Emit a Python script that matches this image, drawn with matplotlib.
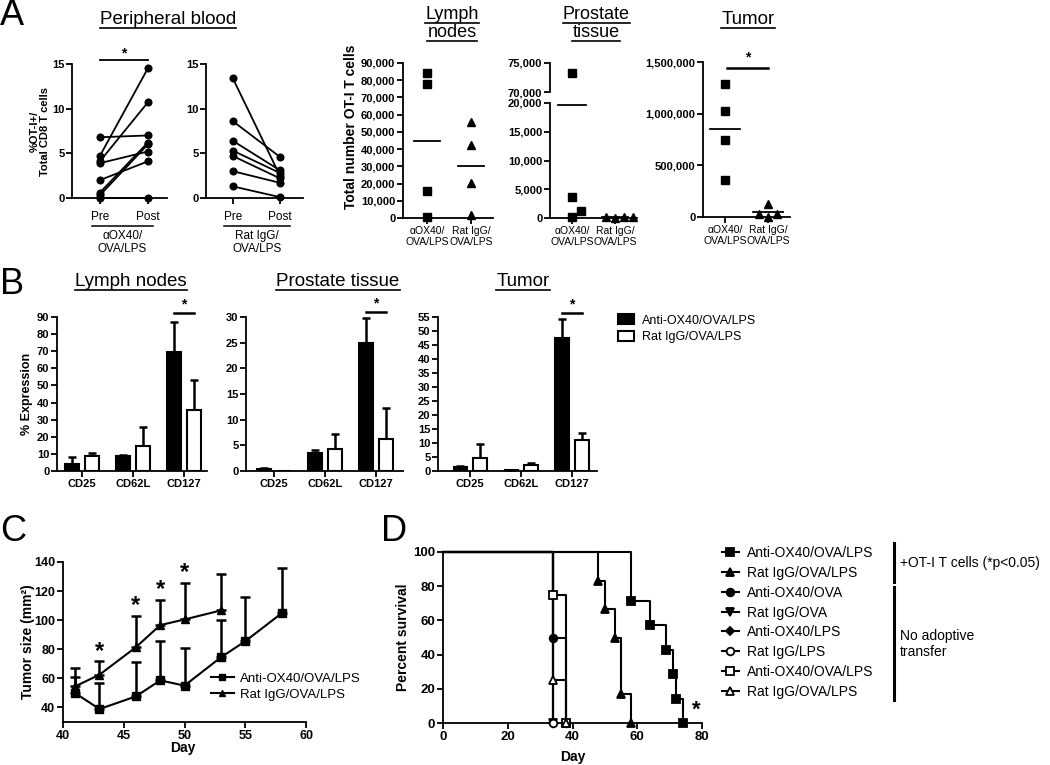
import numpy as np
import matplotlib
matplotlib.use('Agg')
import matplotlib.pyplot as plt
from matplotlib.lines import Line2D
from matplotlib.patches import Patch
from matplotlib.ticker import FuncFormatter

plt.rcParams['font.family'] = ['Liberation Sans', 'DejaVu Sans']
plt.rcParams['font.weight'] = 'bold'
plt.rcParams['axes.linewidth'] = 1.3

# ---------------- data ----------------
# A - peripheral blood, %OT-I+ of CD8, pre/post (paired)
pb_ox40_pre = [6.8, 4.7, 4.1, 3.9, 2.0, 0.6, 0.3, 0.0]
pb_ox40_post = [7.0, 14.5, 10.7, 5.2, 4.1, 6.2, 6.0, 0.0]
pb_igg_pre = [13.4, 8.6, 6.4, 5.3, 4.7, 3.0, 1.3]
pb_igg_post = [2.5, 4.6, 3.1, 2.8, 2.2, 1.7, 0.1]
pb_ticks = ['Pre', 'Post']
pb_groups = ['\u03b1OX40/\nOVA/LPS', 'Rat IgG/\nOVA/LPS']

# A - total OT-I T cells per tissue
group_labels = ['\u03b1OX40/\nOVA/LPS', 'Rat IgG/\nOVA/LPS']
ln_ox40 = [84000, 78000, 15500, 500]
ln_igg = [55500, 42500, 20500, 1500]
pr_ox40 = [73300, 3700, 1300, 100]
pr_igg = [150, 0, 150, 250]
tu_ox40 = [1290000, 1021000, 750000, 362000]
tu_igg = [125000, 30000, 0, 30000]

# B - % expression
b_markers = ['CD25', 'CD62L', 'CD127']
b_ln_ox40 = [4.1, 8.8, 69.3]
b_ln_ox40_err = [4.3, 0.8, 17.8]
b_ln_igg = [9.0, 14.6, 35.4]
b_ln_igg_err = [1.7, 11.0, 17.9]
b_pr_ox40 = [0.4, 3.6, 25.0]
b_pr_ox40_err = [0.25, 0.5, 4.8]
b_pr_igg = [0.0, 4.3, 6.2]
b_pr_igg_err = [0.0, 2.9, 6.1]
b_tu_ox40 = [1.5, 0.35, 47.5]
b_tu_ox40_err = [0.4, 0.0, 6.8]
b_tu_igg = [4.5, 2.1, 11.1]
b_tu_igg_err = [5.2, 0.9, 2.4]
b_legend = ['Anti-OX40/OVA/LPS', 'Rat IgG/OVA/LPS']

# C - tumor size
c_days_ox40 = [41, 43, 46, 48, 50, 53, 55, 58]
c_ox40 = [49.9, 38.9, 47.6, 58.6, 55.0, 74.5, 85.5, 104.8]
c_ox40_err = [11.0, 17.9, 23.9, 27.1, 25.7, 25.3, 30.4, 31.1]
c_days_igg = [41, 43, 46, 48, 50, 53]
c_igg = [54.5, 62.5, 81.4, 96.6, 100.5, 106.7]
c_igg_err = [12.4, 9.2, 21.6, 17.4, 25.0, 25.3]
c_sig_days = [43, 46, 48, 50]

# D - survival (event day, % surviving after event)
d_labels = ['Anti-OX40/OVA/LPS', 'Rat IgG/OVA/LPS', 'Anti-OX40/OVA', 'Rat IgG/OVA',
            'Anti-OX40/LPS', 'Rat IgG/LPS', 'Anti-OX40/OVA/LPS', 'Rat IgG/OVA/LPS']
d_days = [[58, 64, 69, 71, 72, 74], [48, 50, 53, 55, 58], [34, 38], [34], [34], [34],
          [34, 38], [34, 38]]
d_surv = [[71.4, 57.1, 42.9, 28.6, 14.3, 0], [83.3, 66.7, 50, 16.7, 0], [50, 0], [0], [0],
          [0], [75, 0], [25, 0]]
d_mark = ['s', '^', 'o', 'v', 'D', 'o', 's', '^']
d_fill = ['k', 'k', 'k', 'k', 'k', 'w', 'w', 'w']

# ---------------- layout helpers ----------------
W, H = 1050, 765
fig = plt.figure(figsize=(W / 100, H / 100), dpi=100)
renderer = fig.canvas.get_renderer()


def add_ax(x0, y_top, x1, y_bot):
    """axes from a pixel box (origin top-left)."""
    ax = fig.add_axes([x0 / W, 1 - y_bot / H, (x1 - x0) / W, (y_bot - y_top) / H])
    ax.spines['top'].set_visible(False)
    ax.spines['right'].set_visible(False)
    ax.tick_params(direction='out', length=4, width=1.3, labelsize=8, pad=1.5)
    return ax


def bold_y(ax):
    for lab in ax.get_yticklabels():
        lab.set_fontweight('bold')


def fig_line(xs, ys, lw=1.2):
    fig.add_artist(Line2D([x / W for x in xs], [1 - y / H for y in ys], color='k', lw=lw))


def fig_text(x, y, s, **kw):
    kw.setdefault('fontweight', 'normal')
    return fig.text(x / W, 1 - y / H, s, **kw)


def title_ul(xc, y_base, s, fs=13.5):
    t = fig_text(xc, y_base, s, ha='center', va='baseline', fontsize=fs)
    bb = t.get_window_extent(renderer)
    fig_line([bb.x0, bb.x1], [y_base + 4, y_base + 4], lw=1.2)


def swarm_x(ax, x0, vals, slot_px=9, tol_px=7):
    """spread overlapping markers sideways, like a column scatter."""
    disp = ax.transData.transform([(x0, v) for v in vals])[:, 1]
    ppu = ax.transData.transform([(1, 0)])[0, 0] - ax.transData.transform([(0, 0)])[0, 0]
    order = np.argsort(disp)
    groups = []
    for i in order:
        if groups and disp[i] - disp[groups[-1][-1]] < tol_px:
            groups[-1].append(i)
        else:
            groups.append([i])
    slots = [0, 1, -1, 2, -2, 3, -3]
    xs = np.full(len(vals), float(x0))
    for g in groups:
        for k, i in enumerate(g):
            xs[i] = x0 + slots[k] * slot_px / ppu
    return xs


def column(ax, x0, vals, marker, half=0.3, show_mean=True, keep=None):
    vals = np.asarray(vals, dtype=float)
    xs = swarm_x(ax, x0, vals)
    sel = np.ones(len(vals), bool) if keep is None else keep(vals)
    ax.plot(xs[sel], vals[sel], linestyle='none', marker=marker, color='k', ms=5.5,
            clip_on=False, zorder=3)
    if show_mean:
        m = vals.mean()
        ax.plot([x0 - half, x0 + half], [m, m], color='k', lw=1.3)


def sig(ax, x0, x1, y, ystar, fs=11, lw=1.3):
    ax.plot([x0, x1], [y, y], color='k', lw=lw, clip_on=False)
    ax.text((x0 + x1) / 2, ystar, '*', ha='center', va='center', fontsize=fs,
            fontweight='bold', clip_on=False)


comma = FuncFormatter(lambda v, p: '{:,}'.format(int(round(v))))

# panel letters
for letter, x, y in [('A', 0, 25), ('B', 0, 294), ('C', 0, 541), ('D', 381, 541)]:
    fig_text(x, y, letter, fontsize=26, va='baseline', ha='left')

# ---------------- A: peripheral blood ----------------
title_ul(168, 24, 'Peripheral blood')
pb_panels = [((72, 167), (-0.58, 1.4), pb_ox40_pre, pb_ox40_post, pb_groups[0], (92, 153)),
             ((206, 303), (-0.57, 1.49), pb_igg_pre, pb_igg_post, pb_groups[1], (224, 290))]
for (x0, x1), xl, pre, post, glab, (l0, l1) in pb_panels:
    ax = add_ax(x0, 64, x1, 198)
    for a, b in zip(pre, post):
        ax.plot([0, 1], [a, b], '-o', color='k', ms=4.8, lw=1.3, clip_on=False)
    ax.set_xlim(*xl)
    ax.set_ylim(0, 15)
    ax.set_yticks([0, 5, 10, 15])
    ax.tick_params(axis='y', labelsize=8)
    bold_y(ax)
    ax.set_xticks([0, 1], labels=pb_ticks, fontsize=8.5, fontweight='normal')
    ax.tick_params(axis='x', pad=5)
    fig_line([l0, l1], [226, 226], lw=1.1)
    fig_text((l0 + l1) / 2, 230, glab, ha='center', va='top', fontsize=8.5, linespacing=1.1)
    if pre is pb_ox40_pre:
        ax.set_ylabel('%OT-I+/\nTotal CD8 T cells', fontsize=8, fontweight='bold', linespacing=1.1)
        ax.yaxis.set_label_coords(-0.23, 0.5)
        sig(ax, 0, 1, 15.5, 16.2, fs=10)

# ---------------- A: lymph nodes ----------------
title_ul(452, 19, 'Lymph', fs=13)
title_ul(452, 37, 'nodes', fs=13)
ax = add_ax(403, 63, 493, 218)
ax.set_xlim(-0.545, 1.5)
ax.set_ylim(0, 90000)
ax.set_yticks(np.arange(0, 90001, 10000))
ax.yaxis.set_major_formatter(comma)
bold_y(ax)
column(ax, 0, ln_ox40, 's')
column(ax, 1, ln_igg, '^')
ax.set_xticks([0, 1], labels=group_labels, fontsize=7.5, fontweight='normal')
ax.set_ylabel('Total number OT-I T cells', fontsize=10, fontweight='bold')
ax.yaxis.set_label_coords(-0.5, 0.59)

# ---------------- A: prostate tissue (broken axis) ----------------
title_ul(596, 19, 'Prostate', fs=13)
title_ul(596, 37, 'tissue', fs=13)
ax_t = add_ax(550, 63, 637, 92)
ax_b = add_ax(550, 103, 637, 218)
for a in (ax_t, ax_b):
    a.set_xlim(-0.51, 1.51)
    a.yaxis.set_major_formatter(comma)
ax_t.set_ylim(70000, 75000)
ax_t.set_yticks([70000, 75000])
ax_t.spines['bottom'].set_visible(False)
ax_t.set_xticks([])
ax_b.set_ylim(0, 20000)
ax_b.set_yticks(np.arange(0, 20001, 5000))
bold_y(ax_t)
bold_y(ax_b)
column(ax_t, 0, pr_ox40, 's', show_mean=False, keep=lambda v: v > 20000)
column(ax_b, 0, pr_ox40, 's', show_mean=False, keep=lambda v: v <= 20000)
column(ax_b, 1, pr_igg, '^')
m = np.mean(pr_ox40)
ax_b.plot([-0.33, 0.33], [m, m], color='k', lw=1.3)
ax_b.set_xticks([0, 1], labels=group_labels, fontsize=7.5, fontweight='normal')

# ---------------- A: tumor ----------------
title_ul(748, 24, 'Tumor')
ax = add_ax(703, 62, 790, 217)
ax.set_xlim(-0.51, 1.51)
ax.set_ylim(0, 1500000)
ax.set_yticks([0, 500000, 1000000, 1500000])
ax.yaxis.set_major_formatter(comma)
bold_y(ax)
column(ax, 0, tu_ox40, 's', half=0.35)
column(ax, 1, tu_igg, '^', half=0.35)
ax.set_xticks([0, 1], labels=group_labels, fontsize=7.5, fontweight='normal')
sig(ax, 0.05, 1.0, 1445000, 1540000, fs=10, lw=1.8)

# ---------------- B: % expression ----------------
panels_b = [
    ((57, 207), (-0.49, 2.45), 90, 10, b_ln_ox40, b_ln_ox40_err, b_ln_igg, b_ln_igg_err, 92.5, 'Lymph nodes', 131),
    ((246, 403), (-0.55, 2.53), 30, 5, b_pr_ox40, b_pr_ox40_err, b_pr_igg, b_pr_igg_err, 31.0, 'Prostate tissue', 338),
    ((438, 597), (-0.63, 2.49), 55, 5, b_tu_ox40, b_tu_ox40_err, b_tu_igg, b_tu_igg_err, 56.5, 'Tumor', 523),
]
for (x0, x1), xl, top, step, blk, blk_e, wht, wht_e, ysig, ttl, tx in panels_b:
    title_ul(tx, 286, ttl)
    ax = add_ax(x0, 317, x1, 471)
    xs = np.arange(len(b_markers))
    ax.bar(xs - 0.19, blk, 0.27, color='k', edgecolor='k', lw=1.5, zorder=2)
    ax.bar(xs + 0.19, wht, 0.27, color='w', edgecolor='k', lw=1.5, zorder=2)
    for off, v, e in [(-0.19, blk, blk_e), (0.19, wht, wht_e)]:
        v = np.asarray(v)
        e = np.asarray(e)
        ok = v > 0
        ax.errorbar(xs[ok] + off, v[ok], yerr=[np.zeros(ok.sum()), e[ok]], fmt='none',
                    ecolor='k', elinewidth=1.8, capsize=3.2, capthick=1.8, zorder=1)
    ax.set_xlim(*xl)
    ax.set_ylim(0, top)
    ax.set_yticks(np.arange(0, top + 0.1, step))
    ax.set_xticks(xs, labels=b_markers, fontsize=8, fontweight='bold')
    bold_y(ax)
    sig(ax, 2 - 0.19, 2 + 0.19, ysig, ysig + top * 0.055, fs=10, lw=1.8)
    if x0 == 57:
        ax.set_ylabel('% Expression', fontsize=9, fontweight='bold')
        ax.yaxis.set_label_coords(-0.16, 0.5)

fig.legend(handles=[Patch(fc='k', ec='k', lw=1.5), Patch(fc='w', ec='k', lw=1.5)], labels=b_legend,
           loc='upper left', bbox_to_anchor=(618 / W, 1 - 314 / H), frameon=False,
           prop={'size': 9, 'weight': 'normal'}, handlelength=1.3, handleheight=0.9,
           labelspacing=0.35, handletextpad=0.6, borderaxespad=0, borderpad=0)

# ---------------- C: tumor size ----------------
ax = add_ax(63, 562, 306, 722)
for d, v, e, mk in [(c_days_ox40, c_ox40, c_ox40_err, 's'), (c_days_igg, c_igg, c_igg_err, '^')]:
    ax.errorbar(d, v, yerr=[np.zeros(len(e)), e], fmt='-' + mk, color='k', ms=5.5, lw=1.5,
                elinewidth=1.8, capsize=3.5, capthick=1.8, clip_on=False)
top_igg = dict(zip(c_days_igg, np.add(c_igg, c_igg_err)))
for d in c_sig_days:
    ax.text(d, top_igg[d] + 7, '*', ha='center', va='center', fontsize=17, fontweight='bold')
ax.set_xlim(40, 60)
ax.set_ylim(30, 140)
ax.set_xticks([40, 45, 50, 55, 60])
ax.set_yticks(np.arange(40, 141, 20))
ax.tick_params(labelsize=9)
for lab in ax.get_xticklabels() + ax.get_yticklabels():
    lab.set_fontweight('bold')
ax.set_ylabel('Tumor size (mm\u00b2)', fontsize=10, fontweight='bold')
ax.yaxis.set_label_coords(-0.115, 0.5)
ax.set_xlabel('Day', fontsize=10, fontweight='bold')
ax.xaxis.set_label_coords(0.494, -0.12)
ax.legend(handles=[Line2D([], [], color='k', marker='s', ms=5, lw=1.5),
                   Line2D([], [], color='k', marker='^', ms=5, lw=1.5)],
          labels=b_legend, loc='center left', bbox_to_anchor=(0.61, 0.22), frameon=False,
          prop={'size': 9.5, 'weight': 'normal'}, handlelength=1.7, labelspacing=0.3,
          handletextpad=0.5, borderaxespad=0, borderpad=0)

# ---------------- D: survival ----------------
ax = add_ax(443, 552, 702, 723)
handles = []
for days, surv, mk, fc in zip(d_days, d_surv, d_mark, d_fill):
    ax.plot([0] + days, [100] + surv, color='k', lw=1.5, drawstyle='steps-post', clip_on=False)
    ms = 4.2 if mk == 'D' else 5.5
    ax.plot(days, surv, linestyle='none', marker=mk, mfc=fc, mec='k', mew=1.3, ms=ms,
            clip_on=False, zorder=3)
    handles.append(Line2D([], [], color='k', lw=1.5, marker=mk, mfc=fc, mec='k', mew=1.3, ms=ms))
ax.text(78.3, 7.5, '*', ha='center', va='center', fontsize=16, fontweight='bold', clip_on=False)
ax.set_xlim(0, 80)
ax.set_ylim(0, 100)
ax.set_xticks(np.arange(0, 81, 20))
ax.set_yticks(np.arange(0, 101, 20))
ax.tick_params(labelsize=9.5)
for lab in ax.get_xticklabels() + ax.get_yticklabels():
    lab.set_fontweight('bold')
ax.set_ylabel('Percent survival', fontsize=10, fontweight='bold')
ax.yaxis.set_label_coords(-0.127, 0.5)
ax.set_xlabel('Day', fontsize=10, fontweight='bold')
ax.xaxis.set_label_coords(0.5, -0.155)

fig.legend(handles=handles, labels=d_labels, loc='upper left', bbox_to_anchor=(722 / W, 1 - 546 / H),
           frameon=False, prop={'size': 10, 'weight': 'normal'}, handlelength=1.2,
           labelspacing=0.42, handletextpad=0.6, borderaxespad=0, borderpad=0)
fig_line([894, 894], [543, 582], lw=2.2)
fig_line([894, 894], [587, 700], lw=2.2)
fig_text(900, 563, '+OT-I T cells (*p<0.05)', fontsize=10, va='center', ha='left')
fig_text(900, 644, 'No adoptive\ntransfer', fontsize=10, va='center', ha='left', linespacing=1.15)

fig.savefig('out.png', dpi=100)
